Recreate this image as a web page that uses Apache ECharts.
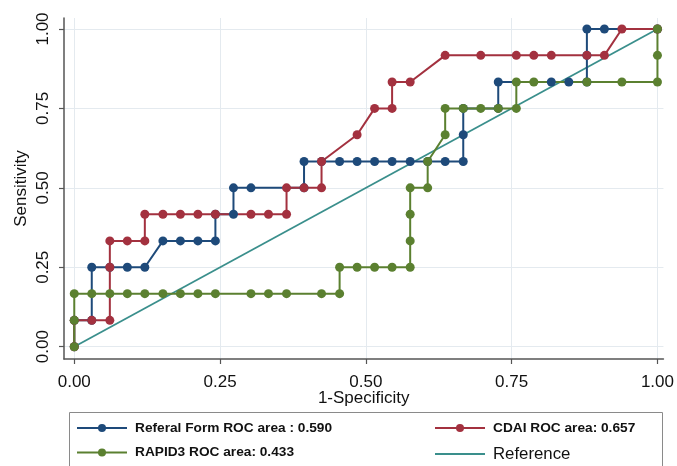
<!DOCTYPE html>
<html><head><meta charset="utf-8">
<script src="https://cdn.jsdelivr.net/npm/echarts@6/dist/echarts.min.js"></script>
<style>html,body{margin:0;padding:0;background:#fff}#c{width:677px;height:466px}</style>
</head><body><div id="c"></div>
<script>
// ---- data ----
const tickValues = [0, 0.25, 0.5, 0.75, 1];

const seriesNames = ['Referal Form ROC area : 0.590', 'CDAI ROC area: 0.657', 'RAPID3 ROC area: 0.433', 'Reference'];

const referralX = [0, 0, 0.030, 0.030, 0.061, 0.091, 0.121, 0.152, 0.182, 0.212, 0.242, 0.242, 0.273, 0.273, 0.303, 0.394, 0.394,
  0.424, 0.455, 0.485, 0.515, 0.545, 0.576, 0.606, 0.636, 0.667, 0.667, 0.667, 0.727, 0.727, 0.818, 0.848, 0.879, 0.879, 0.879, 0.909, 1];
const referralY = [0, 0.083, 0.083, 0.25, 0.25, 0.25, 0.25, 0.333, 0.333, 0.333, 0.333, 0.417, 0.417, 0.5, 0.5, 0.5, 0.583,
  0.583, 0.583, 0.583, 0.583, 0.583, 0.583, 0.583, 0.583, 0.583, 0.667, 0.75, 0.75, 0.833, 0.833, 0.833, 0.833, 0.917, 1, 1, 1];

const cdaiX = [0, 0, 0.030, 0.061, 0.061, 0.061, 0.091, 0.121, 0.121, 0.152, 0.182, 0.212, 0.242, 0.303, 0.333, 0.364, 0.364,
  0.394, 0.424, 0.424, 0.485, 0.515, 0.545, 0.545, 0.576, 0.636, 0.697, 0.758, 0.788, 0.818, 0.879, 0.909, 0.939, 1];
const cdaiY = [0, 0.083, 0.083, 0.083, 0.25, 0.333, 0.333, 0.333, 0.417, 0.417, 0.417, 0.417, 0.417, 0.417, 0.417, 0.417, 0.5,
  0.5, 0.5, 0.583, 0.667, 0.75, 0.75, 0.833, 0.833, 0.917, 0.917, 0.917, 0.917, 0.917, 0.917, 0.917, 1, 1];

const rapidX = [0, 0, 0, 0.030, 0.061, 0.091, 0.121, 0.152, 0.182, 0.212, 0.242, 0.303, 0.333, 0.364, 0.424, 0.455, 0.455,
  0.485, 0.515, 0.545, 0.576, 0.576, 0.576, 0.576, 0.606, 0.606, 0.636, 0.636, 0.667, 0.697, 0.727, 0.758, 0.758, 0.788,
  0.879, 0.939, 1, 1, 1];
const rapidY = [0, 0.083, 0.167, 0.167, 0.167, 0.167, 0.167, 0.167, 0.167, 0.167, 0.167, 0.167, 0.167, 0.167, 0.167, 0.167, 0.25,
  0.25, 0.25, 0.25, 0.25, 0.333, 0.417, 0.5, 0.5, 0.583, 0.667, 0.75, 0.75, 0.75, 0.75, 0.75, 0.833, 0.833,
  0.833, 0.833, 0.833, 0.917, 1];

const referenceX = [0, 1];
const referenceY = [0, 1];

// ---- chart ----
const FONT = '"Liberation Sans", Arial, Helvetica, sans-serif';
const C_BLUE = '#1e4a7a', C_RED = '#a3313f', C_GREEN = '#5b8030', C_TEAL = '#3a8f8c';
function pairs(xs, ys) { return xs.map((x, i) => [x, ys[i]]); }

const axisCommon = {
  type: 'value',
  axisLine: { show: true, onZero: false, lineStyle: { color: '#555', width: 1.5 } },
  axisTick: { show: true, length: 5, customValues: tickValues, lineStyle: { color: '#555', width: 1.2 } },
  axisLabel: { customValues: tickValues, formatter: v => v.toFixed(2), fontSize: 17, color: '#111', fontFamily: FONT },
  splitLine: { show: true, lineStyle: { color: '#e4eaef', width: 1 } },
  nameLocation: 'middle',
  nameMoveOverlap: false,
  nameTextStyle: { fontSize: 17, color: '#111', fontFamily: FONT }
};

function lineSeries(name, data, color, extra) {
  return Object.assign({
    type: 'line', name: name, data: data,
    symbol: 'circle', symbolSize: 9, showAllSymbol: true,
    lineStyle: { color: color, width: 2 },
    itemStyle: { color: color },
    animation: false
  }, extra || {});
}

const legendText = { fontSize: 13.7, fontWeight: 'bold', color: '#111', fontFamily: FONT, lineHeight: 14, padding: [0, 0, 0, 3] };

const option = {
  backgroundColor: '#fff',
  animation: false,
  grid: { left: 64, right: 12, top: 18, bottom: 107 },
  xAxis: Object.assign({}, axisCommon, {
    min: -0.0176, max: 1.0103,
    name: '1-Specificity', nameGap: 31,
    axisLabel: Object.assign({}, axisCommon.axisLabel, { margin: 15 })
  }),
  yAxis: Object.assign({}, axisCommon, {
    min: -0.0387, max: 1.0346,
    name: 'Sensitivity', nameGap: 34,
    axisLabel: Object.assign({}, axisCommon.axisLabel, { rotate: 90, margin: 12 })
  }),
  legend: [
    {
      data: [seriesNames[0], seriesNames[2]],
      orient: 'vertical', left: 76, top: 421, itemGap: 10.5, padding: 0,
      itemWidth: 50, itemHeight: 10,
      textStyle: legendText, selectedMode: false
    },
    {
      data: [seriesNames[1], { name: seriesNames[3], itemStyle: { opacity: 0 }, textStyle: { fontSize: 16.8, fontWeight: 'normal' } }],
      orient: 'vertical', left: 434, top: 421, itemGap: 10.5, padding: 0,
      itemWidth: 50, itemHeight: 10,
      textStyle: legendText, selectedMode: false
    }
  ],
  graphic: [{
    type: 'rect', silent: true, z: -1,
    shape: { x: 69.5, y: 412.5, width: 593, height: 80 },
    style: { fill: 'none', stroke: '#8a8a8a', lineWidth: 1 }
  }],
  series: [
    lineSeries(seriesNames[3], pairs(referenceX, referenceY), C_TEAL, { symbol: 'none', lineStyle: { color: C_TEAL, width: 1.8 } }),
    lineSeries(seriesNames[0], pairs(referralX, referralY), C_BLUE),
    lineSeries(seriesNames[1], pairs(cdaiX, cdaiY), C_RED),
    lineSeries(seriesNames[2], pairs(rapidX, rapidY), C_GREEN)
  ]
};

const chart = echarts.init(document.getElementById('c'), null, { renderer: 'canvas' });
chart.setOption(option);
</script>
</body></html>
